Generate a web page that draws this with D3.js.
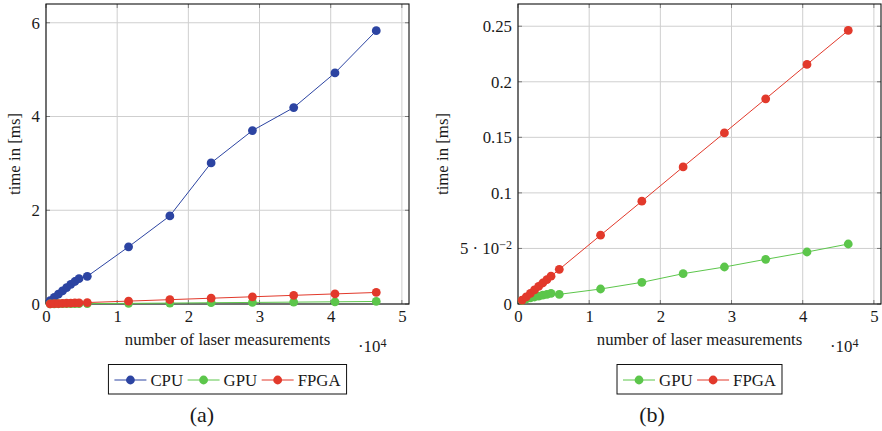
<!DOCTYPE html>
<html>
<head>
<meta charset="utf-8">
<script src="https://cdn.jsdelivr.net/npm/d3@7"></script>
<style>
  body { margin: 0; background: #fff; }
  svg { display: block; }
  text { font-family: "Liberation Serif", "Times New Roman", serif; fill: #1a1a1a; }
</style>
</head>
<body>
<svg id="chart" width="882" height="431"></svg>
<script>
// number of laser measurements, in units of 10^4
const measurements = [0.058, 0.116, 0.174, 0.232, 0.29, 0.348, 0.406, 0.464,
                      0.58, 1.16, 1.74, 2.32, 2.90, 3.48, 4.06, 4.64];
// processing time in ms
const cpuTime  = [0.07, 0.14, 0.21, 0.28, 0.35, 0.42, 0.48, 0.54,
                  0.59, 1.22, 1.88, 3.01, 3.70, 4.19, 4.93, 5.83];
const gpuTime  = [0.0032, 0.0045, 0.0055, 0.0063, 0.0071, 0.0079, 0.0087, 0.0095,
                  0.0087, 0.0135, 0.0195, 0.0273, 0.0333, 0.0402, 0.0468, 0.054];
const fpgaTime = [0.0035, 0.0065, 0.0096, 0.0127, 0.0158, 0.0189, 0.022, 0.025,
                  0.0312, 0.0619, 0.0925, 0.1234, 0.154, 0.1847, 0.2156, 0.2462];

const xTicks  = [0, 1, 2, 3, 4, 5];
const yTicksA = [0, 2, 4, 6];
const yTicksB = [0, 0.05, 0.1, 0.15, 0.2, 0.25];
const yLabelsB = ["0", "5·10^−2", "0.1", "0.15", "0.2", "0.25"];

const colors = { CPU: "#2c44a2", GPU: "#5cc64b", FPGA: "#e2392b" };
const FONT = '"Liberation Serif", "Times New Roman", serif';
const FS = 16.8;
const R = 4.4;

const svg = d3.select("#chart");

function panel(opts) {
  const { left, right, top, bottom, yMax, yTicks, yFmt, series, caption } = opts;
  const x = d3.scaleLinear().domain([0, 5.1]).range([left, right]);
  const y = d3.scaleLinear().domain([0, yMax]).range([bottom, top]);
  const g = svg.append("g");

  // grid
  g.append("g").selectAll("line").data(xTicks).join("line")
    .attr("x1", d => x(d)).attr("x2", d => x(d)).attr("y1", top).attr("y2", bottom)
    .attr("stroke", "#cfcfcf").attr("stroke-width", 1);
  g.append("g").selectAll("line").data(yTicks).join("line")
    .attr("x1", left).attr("x2", right).attr("y1", d => y(d)).attr("y2", d => y(d))
    .attr("stroke", "#cfcfcf").attr("stroke-width", 1);

  // inner tick marks on all four sides
  const tk = g.append("g").attr("stroke", "#7a7a7a").attr("stroke-width", 1);
  xTicks.forEach(d => {
    tk.append("line").attr("x1", x(d)).attr("x2", x(d)).attr("y1", bottom).attr("y2", bottom - 4);
    tk.append("line").attr("x1", x(d)).attr("x2", x(d)).attr("y1", top).attr("y2", top + 4);
  });
  yTicks.forEach(d => {
    tk.append("line").attr("x1", left).attr("x2", left + 4).attr("y1", y(d)).attr("y2", y(d));
    tk.append("line").attr("x1", right).attr("x2", right - 4).attr("y1", y(d)).attr("y2", y(d));
  });

  // tick labels via d3 axes
  const ax = g.append("g").attr("transform", `translate(0,${bottom})`)
    .call(d3.axisBottom(x).tickValues(xTicks).tickSize(0).tickPadding(7).tickFormat(d3.format("d")));
  const ay = g.append("g").attr("transform", `translate(${left},0)`)
    .call(d3.axisLeft(y).tickValues(yTicks).tickSize(0).tickPadding(6).tickFormat(yFmt));
  [ax, ay].forEach(a => {
    a.attr("font-family", FONT).attr("font-size", FS);
    a.select(".domain").remove();
    a.selectAll("text").attr("font-size", FS).attr("font-family", FONT).attr("fill", "#1a1a1a");
  });
  ax.selectAll("text").attr("dy", null).attr("y", 18);
  // superscript formatting for tick labels like 5·10^−2
  ay.selectAll("text").each(function (d) {
    const s = yFmt(d);
    if (s.includes("^")) {
      const [base, exp] = s.split("^");
      const t = d3.select(this).text(null);
      t.append("tspan").text(base.replace("·", " · ").replace(/^5 · /, "5 · "));
      t.append("tspan").attr("dy", "-0.45em").attr("font-size", FS * 0.72).text(exp);
    }
  });

  // frame
  g.append("rect").attr("x", left).attr("y", top).attr("width", right - left).attr("height", bottom - top)
    .attr("fill", "none").attr("stroke", "#111").attr("stroke-width", 1.1);

  // series
  series.forEach(s => {
    const pts = measurements.map((m, i) => [m, s.values[i]]);
    g.append("path").datum(pts)
      .attr("d", d3.line().x(d => x(d[0])).y(d => y(d[1])))
      .attr("fill", "none").attr("stroke", colors[s.name]).attr("stroke-width", 1);
    g.append("g").selectAll("circle").data(pts).join("circle")
      .attr("cx", d => x(d[0])).attr("cy", d => y(d[1])).attr("r", R)
      .attr("fill", colors[s.name]);
  });

  // axis titles
  const cx = (left + right) / 2;
  g.append("text").attr("x", cx).attr("y", 345).attr("text-anchor", "middle")
    .attr("font-size", FS).text("number of laser measurements");
  const sc = g.append("text").attr("x", right - 51).attr("y", 352).attr("font-size", FS);
  sc.append("tspan").text("·10");
  sc.append("tspan").attr("dy", "-0.45em").attr("font-size", FS * 0.72).text("4");
  g.append("text")
    .attr("transform", `translate(${opts.yLabelX},${(top + bottom) / 2}) rotate(-90)`)
    .attr("text-anchor", "middle").attr("dy", "0.35em")
    .attr("font-size", FS).text("time in [ms]");

  // legend
  const lg = g.append("g");
  const lgTop = 364.5, lgH = 29.5, rowY = 380;
  let cur = 0;
  series.forEach(s => {
    const name = s.name;
    const e = lg.append("g");
    e.append("line").attr("x1", cur).attr("x2", cur + 32).attr("y1", rowY).attr("y2", rowY)
      .attr("stroke", colors[name]).attr("stroke-width", 1);
    e.append("circle").attr("cx", cur + 16).attr("cy", rowY).attr("r", R).attr("fill", colors[name]);
    const t = e.append("text").attr("x", cur + 36).attr("y", rowY + 5.5).attr("font-size", FS).text(name);
    const w = t.node().getComputedTextLength();
    cur += 36 + w + 4.5;
  });
  const totalW = cur - 4.5 + 12;
  const lx = cx - totalW / 2;
  lg.attr("transform", `translate(${lx + 6},0)`);
  lg.insert("rect", ":first-child").attr("x", -6).attr("y", lgTop).attr("width", totalW).attr("height", lgH)
    .attr("fill", "#fff").attr("stroke", "#111").attr("stroke-width", 1);

  // sub-caption
  g.append("text").attr("x", opts.captionX).attr("y", 422).attr("text-anchor", "middle")
    .attr("font-size", 22).text(caption);
}

panel({
  left: 46, right: 409, top: 4, bottom: 304, yMax: 6.4,
  yTicks: yTicksA, yFmt: d3.format("d"),
  series: [{ name: "CPU", values: cpuTime }, { name: "GPU", values: gpuTime }, { name: "FPGA", values: fpgaTime }],
  caption: "(a)", captionX: 202, yLabelX: 14
});

panel({
  left: 518, right: 881, top: 4, bottom: 304, yMax: 0.27,
  yTicks: yTicksB, yFmt: d => yLabelsB[yTicksB.indexOf(d)],
  series: [{ name: "GPU", values: gpuTime }, { name: "FPGA", values: fpgaTime }],
  caption: "(b)", captionX: 652, yLabelX: 442
});
</script>
</body>
</html>
